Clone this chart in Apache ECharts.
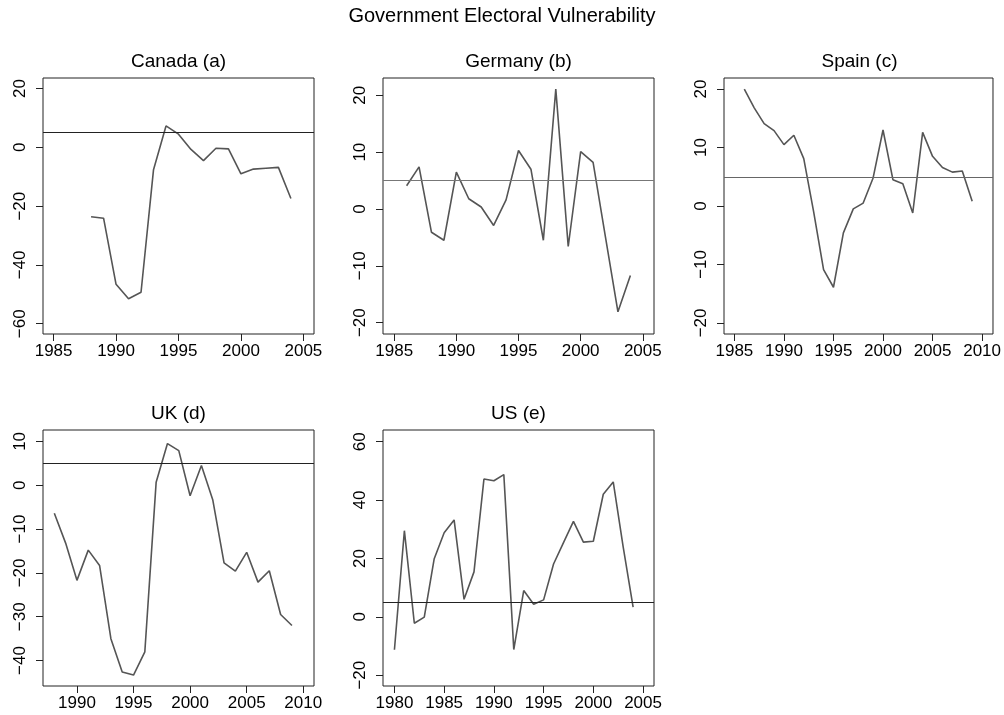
<!DOCTYPE html>
<html>
<head>
<meta charset="utf-8">
<title>Government Electoral Vulnerability</title>
<script src="https://cdn.jsdelivr.net/npm/echarts@6/dist/echarts.min.js"></script>
<style>
  html, body { margin: 0; padding: 0; background: #fff; }
  #chart { width: 1004px; height: 715px; }
</style>
</head>
<body>
<div id="chart"></div>
<script>
// values, one pair of arrays per country
const canadaYears = [1988, 1989, 1990, 1991, 1992, 1993, 1994, 1995, 1996, 1997, 1998, 1999, 2000, 2001, 2002, 2003, 2004]
const canadaVals = [-23.6, -24.1, -46.6, -51.5, -49.3, -7.6, 7.3, 4.5, -0.7, -4.5, -0.3, -0.5, -9.0, -7.4, -7.1, -6.8, -17.4]

const germanyYears = [1986, 1987, 1988, 1989, 1990, 1991, 1992, 1993, 1994, 1995, 1996, 1997, 1998, 1999, 2000, 2001, 2002, 2003, 2004]
const germanyVals = [4.1, 7.4, -4.1, -5.5, 6.5, 1.8, 0.35, -2.9, 1.6, 10.3, 7.0, -5.5, 21.1, -6.6, 10.1, 8.2, -5.0, -18.1, -11.7]

const spainYears = [1986, 1987, 1988, 1989, 1990, 1991, 1992, 1993, 1994, 1995, 1996, 1997, 1998, 1999, 2000, 2001, 2002, 2003, 2004, 2005, 2006, 2007, 2008, 2009]
const spainVals = [20.0, 16.8, 14.1, 12.9, 10.5, 12.1, 8.1, -1.0, -10.9, -13.9, -4.6, -0.5, 0.5, 4.8, 13.0, 4.5, 3.8, -1.2, 12.6, 8.5, 6.6, 5.8, 6.0, 0.8]

const ukYears = [1988, 1989, 1990, 1991, 1992, 1993, 1994, 1995, 1996, 1997, 1998, 1999, 2000, 2001, 2002, 2003, 2004, 2005, 2006, 2007, 2008, 2009]
const ukVals = [-6.4, -13.2, -21.7, -14.8, -18.3, -35.0, -42.6, -43.3, -38.0, 0.7, 9.5, 7.9, -2.4, 4.5, -3.3, -17.7, -19.6, -15.3, -22.1, -19.5, -29.5, -32.0]

const usYears = [1980, 1981, 1982, 1983, 1984, 1985, 1986, 1987, 1988, 1989, 1990, 1991, 1992, 1993, 1994, 1995, 1996, 1997, 1998, 1999, 2000, 2001, 2002, 2003, 2004]
const usVals = [-11.3, 29.5, -2.2, -0.1, 19.9, 28.8, 33.2, 6.0, 15.4, 47.2, 46.6, 48.7, -11.2, 9.0, 4.3, 5.8, 18.1, 25.4, 32.7, 25.6, 25.9, 42.0, 46.2, 24.0, 3.3]

// tick labels
const canadaXTicks = [1985, 1990, 1995, 2000, 2005]
const canadaYTicks = [-60, -40, -20, 0, 20]
const germanyXTicks = [1985, 1990, 1995, 2000, 2005]
const germanyYTicks = [-20, -10, 0, 10, 20]
const spainXTicks = [1985, 1990, 1995, 2000, 2005, 2010]
const spainYTicks = [-20, -10, 0, 10, 20]
const ukXTicks = [1990, 1995, 2000, 2005, 2010]
const ukYTicks = [-40, -30, -20, -10, 0, 10]
const usXTicks = [1980, 1985, 1990, 1995, 2000, 2005]
const usYTicks = [-20, 0, 20, 40, 60]

const panelTitles = ['Canada (a)', 'Germany (b)', 'Spain (c)', 'UK (d)', 'US (e)']
const threshold = 5

const FONT = 'Liberation Sans, Arial, Helvetica, sans-serif'

// layout of each panel (plot box in px) and axis ranges
const panels = [
  { years: canadaYears, vals: canadaVals, xTicks: canadaXTicks, yTicks: canadaYTicks,
    box: [43, 78, 271, 256], xr: [1984.15, 2005.85], yr: [-63.5, 23.6], refColor: '#222' },
  { years: germanyYears, vals: germanyVals, xTicks: germanyXTicks, yTicks: germanyYTicks,
    box: [383, 78, 271, 256], xr: [1984.1, 2005.9], yr: [-22.0, 23.05], refColor: '#777' },
  { years: spainYears, vals: spainVals, xTicks: spainXTicks, yTicks: spainYTicks,
    box: [724, 78, 271, 256], xr: [1983.95, 2011.1], yr: [-21.9, 21.9], refColor: '#666' },
  { years: ukYears, vals: ukVals, xTicks: ukXTicks, yTicks: ukYTicks,
    box: [43, 430, 271, 256], xr: [1987.0, 2010.95], yr: [-45.8, 12.6], refColor: '#222' },
  { years: usYears, vals: usVals, xTicks: usXTicks, yTicks: usYTicks,
    box: [383, 430, 271, 256], xr: [1978.85, 2006.1], yr: [-23.7, 64.0], refColor: '#222' }
]

const chart = echarts.init(document.getElementById('chart'), null, { renderer: 'canvas' })

const plainNum = v => String(v).replace('-', '\u2212')

const titles = [{
  text: 'Government Electoral Vulnerability',
  left: 502, top: 6, textAlign: 'center', padding: 0,
  textStyle: { fontFamily: FONT, fontSize: 20, fontWeight: 'normal', color: '#000' }
}]
const grids = []
const xAxes = []
const yAxes = []
const series = []

panels.forEach((p, i) => {
  const [left, top, width, height] = p.box
  titles.push({
    text: panelTitles[i],
    left: left + width / 2, top: top - 26, textAlign: 'center', padding: 0,
    textStyle: { fontFamily: FONT, fontSize: 19, fontWeight: 'normal', color: '#000' }
  })
  grids.push({ left, top, width, height, show: true, borderColor: '#222', borderWidth: 1, containLabel: false })
  xAxes.push({
    type: 'value', gridIndex: i, min: p.xr[0], max: p.xr[1],
    axisLine: { show: false, onZero: false },
    axisTick: { show: true, length: 7, customValues: p.xTicks, lineStyle: { color: '#222' } },
    axisLabel: { customValues: p.xTicks, margin: 9, formatter: plainNum, fontFamily: FONT, fontSize: 17, color: '#000' },
    splitLine: { show: false }
  })
  yAxes.push({
    type: 'value', gridIndex: i, min: p.yr[0], max: p.yr[1],
    axisLine: { show: false, onZero: false },
    axisTick: { show: true, length: 7, customValues: p.yTicks, lineStyle: { color: '#222' } },
    axisLabel: { customValues: p.yTicks, rotate: 90, margin: 14, formatter: plainNum, fontFamily: FONT, fontSize: 17, color: '#000' },
    splitLine: { show: false }
  })
  series.push({
    type: 'line', xAxisIndex: i, yAxisIndex: i,
    data: p.years.map((y, j) => [y, p.vals[j]]),
    showSymbol: false, symbol: 'none',
    lineStyle: { color: '#555', width: 1.6 },
    markLine: {
      silent: true, symbol: 'none', label: { show: false },
      lineStyle: { color: p.refColor, width: 1.2, type: 'solid' },
      data: [{ yAxis: threshold }]
    }
  })
})

chart.setOption({
  animation: false,
  backgroundColor: '#fff',
  title: titles,
  grid: grids,
  xAxis: xAxes,
  yAxis: yAxes,
  series
})
</script>
</body>
</html>
